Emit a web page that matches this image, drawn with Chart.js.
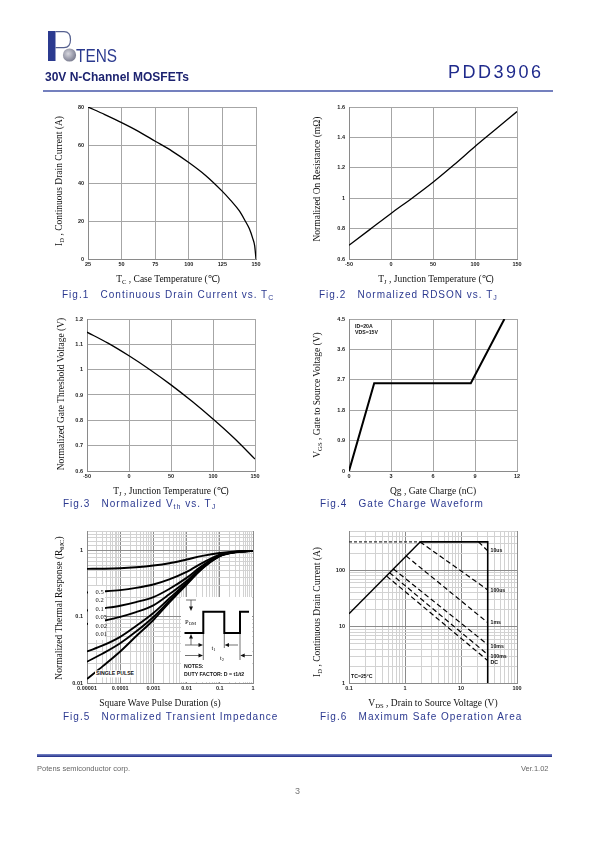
<!DOCTYPE html>
<html>
<head>
<meta charset="utf-8">
<title>PDD3906</title>
<script src="https://cdn.jsdelivr.net/npm/chart.js@4.4.1/dist/chart.umd.min.js"></script>
<style>
  body { margin: 0; background: #fff; }
  #page { position: relative; width: 595px; height: 842px; overflow: hidden; font-family: "Liberation Sans", Arial, sans-serif; }
  #page canvas { position: absolute; z-index: 1; }
  #deco { position: absolute; left: 0; top: 0; z-index: 2; }
  .t { position: absolute; z-index: 3; white-space: pre; line-height: 1; }
  .yt { font-family: "Liberation Serif", "Times New Roman", serif; font-size: 9.5px; color: #111; transform: translate(-50%, -50%) rotate(-90deg); }
  .xt { font-family: "Liberation Serif", "Times New Roman", serif; font-size: 9.5px; color: #111; transform: translate(-50%, -50%); }
  .cap { font-size: 10px; letter-spacing: 1px; color: #2b3990; transform: translateY(-50%); }
  .nt { font-size: 5.2px; font-weight: bold; color: #111; transform: translateY(-50%); }
  .wb { background: #fff; padding: 1px 1px; }
  .dl { font-family: "Liberation Serif", serif; font-size: 6.5px; color: #111; transform: translateY(-50%); }
  sub { font-size: 70%; vertical-align: -0.25em; line-height: 0; }
</style>
</head>
<body>
<div id="page">
  <svg id="deco" width="595" height="842">
    <defs>
      <radialGradient id="globe" cx="40%" cy="40%" r="60%">
        <stop offset="0" stop-color="#d6d6de"/>
        <stop offset="1" stop-color="#7d7f92"/>
      </radialGradient>
      <linearGradient id="foot" x1="0" y1="0" x2="0" y2="1">
        <stop offset="0" stop-color="#7a88c8"/>
        <stop offset="1" stop-color="#1d2a85"/>
      </linearGradient>
    </defs>
    <!-- logo -->
    <rect x="48" y="31" width="7.5" height="30" fill="#2b3a8f"/>
    <path d="M55.5 31.6 H64 Q70.5 31.6 70.5 39.5 Q70.5 47.6 64 47.6 H55.5" fill="none" stroke="#55608f" stroke-width="1.2"/>
    <circle cx="69.5" cy="55" r="6.6" fill="url(#globe)"/>
    <text x="76" y="61.5" font-family="Liberation Sans Narrow, Liberation Sans" font-size="18" fill="#2b3a8f" textLength="41" lengthAdjust="spacingAndGlyphs">TENS</text>
    <line x1="43" y1="91" x2="553" y2="91" stroke="#4656a8" stroke-width="1.5"/>
    <rect x="37" y="754" width="515" height="3" fill="url(#foot)"/>

    <!-- Fig.5 label box and inset -->
    <rect x="88" y="586" width="17" height="54" fill="#fff"/>
    <rect x="181" y="597" width="71" height="85" fill="#fff"/>
    <path d="M184.5 633 H203.3 V611.7 H224.3 V633 H240 V611.7 H249" fill="none" stroke="#000" stroke-width="2"/>
    <g stroke="#333" stroke-width="0.7" fill="none">
      <line x1="203.3" y1="634" x2="203.3" y2="660"/>
      <line x1="224.3" y1="634" x2="224.3" y2="648"/>
      <line x1="240" y1="634" x2="240" y2="660"/>
      <line x1="186" y1="600" x2="196" y2="600"/>
      <line x1="191" y1="600" x2="191" y2="607"/>
      <line x1="191" y1="638" x2="191" y2="645"/>
      <line x1="185" y1="645" x2="200" y2="645"/>
      <line x1="228" y1="645" x2="238" y2="645"/>
      <line x1="185" y1="655.5" x2="200" y2="655.5"/>
      <line x1="243" y1="655.5" x2="252" y2="655.5"/>
    </g>
    <g fill="#111">
      <polygon points="191,611 189,606.5 193,606.5"/>
      <polygon points="191,634 189,638.5 193,638.5"/>
      <polygon points="203,645 198.5,643 198.5,647"/>
      <polygon points="224.6,645 229,643 229,647"/>
      <polygon points="203,655.5 198.5,653.5 198.5,657.5"/>
      <polygon points="240.3,655.5 244.7,653.5 244.7,657.5"/>
    </g>
  </svg>

  <div class="t" style="left:45px;top:71px;font-size:12px;font-weight:bold;color:#1d2370;">30V N-Channel MOSFETs</div>
  <div class="t" style="left:448px;top:63px;font-size:18px;letter-spacing:2.5px;color:#1f2a8c;">PDD3906</div>

  <div class="t" style="left:37px;top:765px;font-size:7.5px;color:#666;">Potens semiconductor corp.</div>
  <div class="t" style="left:521px;top:765px;font-size:7.5px;color:#666;">Ver.1.02</div>
  <div class="t" style="left:295px;top:787px;font-size:9px;color:#777;">3</div>
</div>

<script>
// Fig.1 continuous drain current vs case temperature
const tc1 = [25, 37.5, 50, 62.5, 75, 87.5, 100, 112.5, 125, 131, 137.5, 142, 145, 147.5, 149, 150];
const id1 = [80, 76, 71.8, 67.2, 62, 56.8, 50.8, 44, 35.6, 31, 25.4, 20, 16, 11, 7, 0];
const xTicks1 = [25, 50, 75, 100, 125, 150];
const yTicks1 = [0, 20, 40, 60, 80];

// Fig.2 normalized RDSON vs junction temperature
const tj2 = [-50, -25, 0, 25, 50, 75, 100, 125, 150];
const rds2 = [0.69, 0.795, 0.9, 1.0, 1.105, 1.22, 1.34, 1.455, 1.57];
const xTicks2 = [-50, 0, 50, 100, 150];
const yTicks2 = [0.6, 0.8, 1, 1.2, 1.4, 1.6];

// Fig.3 normalized Vth vs junction temperature
const tj3 = [-50, -25, 0, 25, 50, 75, 100, 125, 150];
const vth3 = [1.148, 1.105, 1.055, 1.0, 0.94, 0.875, 0.805, 0.73, 0.647];
const xTicks3 = [-50, 0, 50, 100, 150];
const yTicks3 = [0.6, 0.7, 0.8, 0.9, 1, 1.1, 1.2];

// Fig.4 gate charge
const qg4 = [0, 1.8, 8.7, 11.1];
const vgs4 = [0, 2.6, 2.6, 4.5];
const xTicks4 = [0, 3, 6, 9, 12];
const yTicks4 = [0, 0.9, 1.8, 2.7, 3.6, 4.5];

// Fig.5 transient thermal impedance
const t5 = [1e-5, 3e-5, 1e-4, 3e-4, 1e-3, 3e-3, 1e-2, 3e-2, 1e-1, 3e-1, 1];
const zD05 = [0.535, 0.537, 0.545, 0.565, 0.6, 0.65, 0.74, 0.84, 0.93, 0.98, 1.0];
const zD02 = [0.235, 0.243, 0.255, 0.275, 0.31, 0.37, 0.48, 0.66, 0.88, 0.97, 1.0];
const zD01 = [0.125, 0.135, 0.148, 0.168, 0.2, 0.265, 0.39, 0.6, 0.86, 0.965, 1.0];
const zD005 = [0.078, 0.087, 0.1, 0.118, 0.15, 0.22, 0.35, 0.58, 0.85, 0.962, 1.0];
const zD002 = [0.03, 0.037, 0.05, 0.073, 0.115, 0.19, 0.33, 0.56, 0.84, 0.96, 1.0];
const zD001 = [0.021, 0.028, 0.04, 0.06, 0.1, 0.175, 0.32, 0.55, 0.835, 0.957, 1.0];
const zSingle = [0.0115, 0.018, 0.03, 0.051, 0.09, 0.165, 0.31, 0.54, 0.83, 0.955, 1.0];
const dutyLabels = ['0.5', '0.2', '0.1', '0.05', '0.02', '0.01'];
const xTicks5 = [1e-5, 1e-4, 1e-3, 1e-2, 1e-1, 1];
const xLabels5 = ['0.00001', '0.0001', '0.001', '0.01', '0.1', '1'];
const yTicks5 = [0.01, 0.1, 1];
const yLabels5 = ['0.01', '0.1', '1'];

// Fig.6 safe operating area
const rdsV6 = [0.1, 1.86];
const rdsI6 = [17, 320];
const capV6 = [0.1, 1.86];
const capI6 = [320, 320];
const limV6 = [1.86, 30, 30];
const limI6 = [320, 320, 1];
const pulseNames6 = ['10us', '100us', '1ms', '10ms', '100ms', 'DC'];
const pulseStartV6 = [20.6, 1.86, 1.05, 0.62, 0.53, 0.47];
const pulseStartI6 = [320, 320, 180, 106, 91, 79];
const pulseEndV6 = [30, 30, 30, 30, 30, 30];
const pulseEndI6 = [222, 45, 11.8, 4.8, 3.2, 2.5];
const xTicks6 = [0.1, 1, 10, 100];
const xLabels6 = ['0.1', '1', '10', '100'];
const yTicks6 = [1, 10, 100];
const yLabels6 = ['1', '10', '100'];

Chart.defaults.font.family = '"Liberation Sans", Arial, sans-serif';
const page = document.getElementById('page');

function txt(html, x, y, cls) {
  const d = document.createElement('div');
  d.className = 't ' + cls;
  d.innerHTML = html;
  d.style.left = x + 'px';
  d.style.top = y + 'px';
  page.appendChild(d);
}

// grid lines between decades for the log charts
function logGrid(lo, hi, extra) {
  const out = [];
  for (let d = lo; d < hi * 0.999; d *= 10) {
    for (let m = 1; m < 10; m++) {
      const v = +(d * m).toPrecision(6);
      if (v <= hi) out.push(v);
    }
  }
  out.push(hi);
  return out.concat(extra || []).sort((a, b) => a - b);
}

function series(xs, ys, width, opts) {
  return Object.assign({
    data: xs.map((x, i) => ({ x: x, y: ys[i] })),
    showLine: true, borderColor: '#000', borderWidth: width,
    pointRadius: 0, fill: false
  }, opts || {});
}

function axis(s, dir, size) {
  const grid = s.grid || s.ticks;
  return {
    type: s.type || 'linear', min: s.min, max: s.max,
    afterBuildTicks: sc => { sc.ticks = grid.map(v => ({ value: v })); },
    afterFit: sc => { if (dir === 'x') sc.height = size; else sc.width = size; },
    ticks: {
      autoSkip: false, maxRotation: 0, padding: dir === 'x' ? 2 : 4,
      color: '#222', font: { size: 5.5, weight: 'bold' },
      callback: v => {
        const i = s.ticks.indexOf(v);
        if (i < 0) return '';
        return s.labels ? s.labels[i] : String(v);
      }
    },
    grid: {
      drawTicks: false,
      color: ctx => (ctx.tick && s.ticks.includes(ctx.tick.value)) ? (s.major || '#a6a6a6') : (s.minor || '#a6a6a6'),
      lineWidth: 1
    },
    border: { color: '#8a8a8a', width: 1 }
  };
}

function makeChart(plot, datasets, xs, ys) {
  const padL = 28, padB = 12, padT = 8, padR = 12;
  const cv = document.createElement('canvas');
  cv.width = plot.r - plot.l + padL + padR;
  cv.height = plot.b - plot.t + padT + padB;
  cv.style.left = (plot.l - padL) + 'px';
  cv.style.top = (plot.t - padT) + 'px';
  page.appendChild(cv);
  new Chart(cv, {
    type: 'scatter',
    data: { datasets: datasets },
    options: {
      responsive: false, animation: false, devicePixelRatio: 1,
      layout: { padding: { top: padT, right: padR, left: 0, bottom: 0 } },
      plugins: { legend: { display: false }, tooltip: { enabled: false } },
      scales: { x: axis(xs, 'x', padB), y: axis(ys, 'y', padL) }
    }
  });
}

const smooth = { cubicInterpolationMode: 'monotone' };

// Fig.1
makeChart({ l: 88, t: 107, r: 256, b: 259 },
  [series(tc1, id1, 1.3, smooth)],
  { min: 25, max: 150, ticks: xTicks1 },
  { min: 0, max: 80, ticks: yTicks1 });
txt('I<sub>D</sub> , Continuous Drain Current (A)', 60, 181, 'yt');
txt('T<sub>C</sub> , Case Temperature (℃)', 168, 280, 'xt');
txt('Fig.1   Continuous Drain Current vs. T<sub>C</sub>', 62, 295, 'cap');

// Fig.2
makeChart({ l: 349, t: 107, r: 517, b: 259 },
  [series(tj2, rds2, 1.3, smooth)],
  { min: -50, max: 150, ticks: xTicks2 },
  { min: 0.6, max: 1.6, ticks: yTicks2 });
txt('Normalized On Resistance (mΩ)', 317.5, 179, 'yt');
txt('T<sub>J</sub> , Junction Temperature (℃)', 436, 280, 'xt');
txt('Fig.2   Normalized RDSON vs. T<sub>J</sub>', 319, 295, 'cap');

// Fig.3
makeChart({ l: 87, t: 319, r: 255, b: 471 },
  [series(tj3, vth3, 1.3, smooth)],
  { min: -50, max: 150, ticks: xTicks3 },
  { min: 0.6, max: 1.2, ticks: yTicks3 });
txt('Normalized Gate Threshold Voltage (V)', 61.5, 394, 'yt');
txt('T<sub>J</sub> , Junction Temperature (℃)', 171, 491.5, 'xt');
txt('Fig.3   Normalized V<sub>th</sub> vs. T<sub>J</sub>', 63, 503.5, 'cap');

// Fig.4
makeChart({ l: 349, t: 319, r: 517, b: 471 },
  [series(qg4, vgs4, 2)],
  { min: 0, max: 12, ticks: xTicks4 },
  { min: 0, max: 4.5, ticks: yTicks4 });
txt('V<sub>GS</sub> , Gate to Source Voltage (V)', 317.5, 395, 'yt');
txt('Qg , Gate Charge (nC)', 433, 491.5, 'xt');
txt('Fig.4   Gate Charge Waveform', 320, 504, 'cap');
txt('ID=20A', 355, 326.5, 'nt');
txt('VDS=15V', 355, 332.5, 'nt');

// Fig.5
makeChart({ l: 87, t: 531, r: 253, b: 683 },
  [zD05, zD02, zD01, zD005, zD002, zD001, zSingle].map(z => series(t5, z, 1.9, smooth)),
  { type: 'logarithmic', min: 1e-5, max: 1, ticks: xTicks5, labels: xLabels5,
    grid: logGrid(1e-5, 1), major: '#8c8c8c', minor: '#d2d2d2' },
  { type: 'logarithmic', min: 0.01, max: 2, ticks: yTicks5, labels: yLabels5,
    grid: logGrid(0.01, 2, [1.2, 1.4, 1.6, 1.8]), major: '#8c8c8c', minor: '#d2d2d2' });
dutyLabels.forEach((d, i) => txt(d, 95.5, 591.7 + i * 8.5, 'dl'));
txt('SINGLE PULSE', 95, 673.5, 'nt wb');
txt('P<sub>DM</sub>', 185, 622, 'dl');
txt('t<sub>1</sub>', 211.5, 648, 'dl');
txt('t<sub>2</sub>', 220, 658, 'dl');
txt('NOTES:', 184, 666.7, 'nt');
txt('DUTY FACTOR: D = t1/t2', 184, 675, 'nt');
txt('Normalized Thermal Response (R<sub>θJC</sub>)', 60, 608, 'yt');
txt('Square Wave Pulse Duration (s)', 160, 703.5, 'xt');
txt('Fig.5   Normalized Transient Impedance', 63, 717, 'cap');

// Fig.6
const soa = [
  series(rdsV6, rdsI6, 1.4),
  series(capV6, capI6, 1.2, { borderDash: [3, 2], borderColor: '#333' }),
  series(limV6, limI6, 1.6)
];
pulseNames6.forEach((n, i) => {
  soa.push(series([pulseStartV6[i], pulseEndV6[i]], [pulseStartI6[i], pulseEndI6[i]], 1.2, { borderDash: [5, 3] }));
});
makeChart({ l: 349, t: 531, r: 517, b: 683 }, soa,
  { type: 'logarithmic', min: 0.1, max: 100, ticks: xTicks6, labels: xLabels6,
    grid: logGrid(0.1, 100), major: '#8c8c8c', minor: '#d2d2d2' },
  { type: 'logarithmic', min: 1, max: 500, ticks: yTicks6, labels: yLabels6,
    grid: logGrid(1, 500), major: '#8c8c8c', minor: '#d2d2d2' });
const pulseLabelY6 = [551, 590.5, 623.3, 646.5, 656.5, 662.5];
pulseNames6.forEach((n, i) => txt(n, 490.5, pulseLabelY6[i], 'nt'));
txt('TC=25°C', 351, 677, 'nt');
txt('I<sub>D</sub> , Continuous Drain Current (A)', 317.5, 612, 'yt');
txt('V<sub>DS</sub> , Drain to Source Voltage (V)', 433, 703.5, 'xt');
txt('Fig.6   Maximum Safe Operation Area', 320, 717, 'cap');
</script>
</body>
</html>
